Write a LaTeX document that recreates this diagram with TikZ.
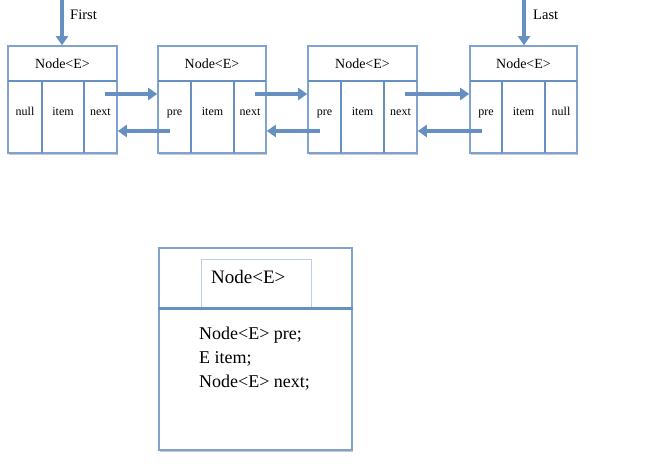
\documentclass[tikz,border=0pt]{standalone}
\usepackage{fontspec}
\setmainfont{Liberation Serif}
\usetikzlibrary{arrows.meta,calc,shadows}
\definecolor{ln}{HTML}{6690C2}
\definecolor{bx}{HTML}{7FA2CE}
\definecolor{lt}{HTML}{BBD0E8}
\begin{document}
\begin{tikzpicture}[x=1pt,y=-1pt,
  shd/.style={drop shadow={opacity=0.22,shadow xshift=0.6pt,shadow yshift=-1.6pt,fill=black}},
  hdr/.style={draw=bx,fill=white,line width=1.6pt,minimum height=35pt,inner sep=0pt,font=\fontsize{14}{16}\selectfont},
  cell/.style={draw=bx,fill=white,line width=1.6pt,minimum height=72pt,inner sep=0pt,shd},
  ctext/.style={inner sep=0pt,anchor=base,font=\fontsize{12}{14}\selectfont},
  divl/.style={draw=ln,line width=2.8pt},
  arr/.style={draw=ln,line width=3.2pt,-{Triangle[width=12pt,length=9pt]}},
  ptr/.style={inner sep=0pt,font=\fontsize{14.5}{16}\selectfont,anchor=west}]
\useasboundingbox (0,0) rectangle (655,474);
% ---- node boxes ----
\foreach \n/\a/\b/\c/\d/\ta/\tc in {1/8/42/84/117/null/next,2/158/191/234/266/pre/next,3/308/341/384/417/pre/next,4/470/502/545/577/pre/null}{
  \node[cell,minimum width={\d-\a}] (b\n) at ({(\a+\d)/2},117) {};
  \node[hdr,minimum width={\d-\a}] (h\n) at ({(\a+\d)/2},63.5) {Node<E>};
  \draw[divl] (\b,81) -- (\b,153);
  \draw[divl] (\c,81) -- (\c,153);
  \draw[ln,line width=2.4pt] (\a,81) -- (\d,81);
  \node[ctext] (t\n a) at ({(\a+\b)/2},115) {\ta};
  \node[ctext] (t\n b) at ({(\b+\c)/2},115) {item};
  \node[ctext] (t\n c) at ({(\c+\d)/2},115) {\tc};
}
% ---- First / Last pointers ----
\coordinate (f0) at (62,0);
\coordinate (l0) at (524,0);
\draw[arr] (f0) -- (f0 |- h1.north);
\draw[arr] (l0) -- (l0 |- h4.north);
\node[ptr] (first) at (70,15) {First};
\node[ptr] (last) at (533,15) {Last};
% ---- links ----
\coordinate (r1) at (105,94);
\coordinate (r2) at (255,94);
\coordinate (r3) at (405,94);
\coordinate (l2) at (170,131);
\coordinate (l3) at (320,131);
\coordinate (l4) at (482,131);
\draw[arr] (r1) -- (r1 -| b2.west);
\draw[arr] (r2) -- (r2 -| b3.west);
\draw[arr] (r3) -- (r3 -| b4.west);
\draw[arr] (l2) -- (l2 -| b1.east);
\draw[arr] (l3) -- (l3 -| b2.east);
\draw[arr] (l4) -- (l4 -| b3.east);
% ---- class box ----
\node[draw=bx,fill=white,line width=1.8pt,minimum width=193pt,minimum height=202pt,inner sep=0pt,shd] (cls) at (255.5,349) {};
\node[draw=lt,line width=1pt,minimum width=110pt,minimum height=49pt,inner sep=0pt] (inner) at (256,283.5) {};
\draw[ln,line width=2.6pt] (cls.west |- inner.south) -- (cls.east |- inner.south);
\node[inner sep=0pt,anchor=west,font=\fontsize{19}{22}\selectfont] (cname) at (211,277) {Node<E>};
\node[inner sep=0pt,anchor=north west,align=left,font=\fontsize{18}{24}\selectfont] (fields) at (199,327) {Node<E> pre;\\E item;\\Node<E> next;};
\end{tikzpicture}
\end{document}
